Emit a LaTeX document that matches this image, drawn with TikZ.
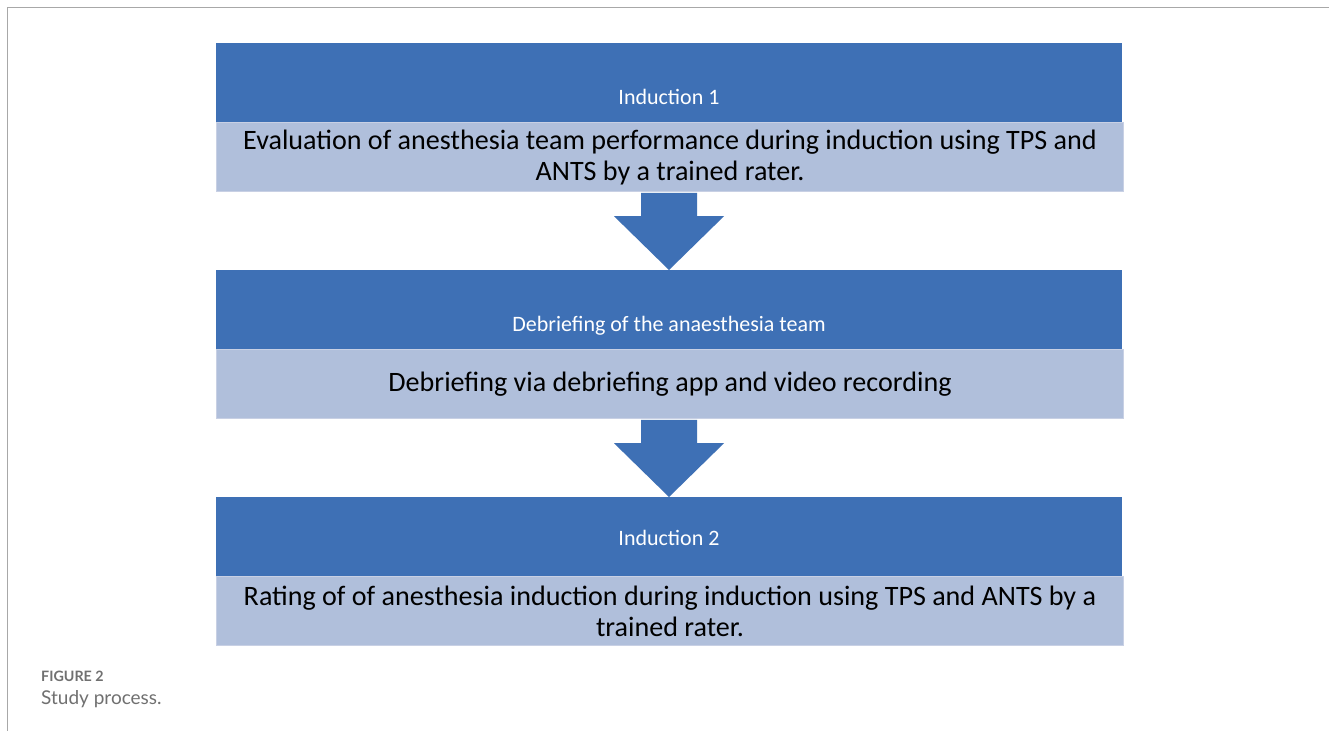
\documentclass[tikz,border=0pt]{standalone}
\usepackage{fontspec}
\setmainfont{Carlito}
\newfontfamily\capfont{Lato}
\usetikzlibrary{calc}
\definecolor{darkblue}{HTML}{3E70B5}
\definecolor{lightblue}{HTML}{B0BFDB}
\definecolor{lightedge}{HTML}{C8D0E4}
\definecolor{framegray}{HTML}{A8A8A8}
\definecolor{capgray}{HTML}{707070}
\tikzset{
  headbox/.style={rectangle, fill=darkblue, text=white, minimum width=906pt, inner xsep=0pt, inner ysep=0pt,
    text height=61pt, text depth=18pt, font=\fontsize{22pt}{26pt}\selectfont, anchor=north},
  highhead/.style={text height=48pt, text depth=31pt},
  bodybox/.style={rectangle, fill=lightblue, draw=lightedge, line width=1.2pt, text=black, minimum width=907pt, minimum height=69pt,
    inner sep=0pt, align=center, font=\fontsize{28.1pt}{31pt}\selectfont, anchor=north},
  flowarrow/.style={fill=darkblue},
}
\begin{document}
\begin{tikzpicture}[x=1pt,y=-1pt]
\useasboundingbox (0,0) rectangle (1329,731);
\fill[white] (0,0) rectangle (1329,731);
\draw[framegray, line width=1.2pt] (1329,7.5) -- (7.5,7.5) -- (7.5,731);

\node[headbox] (d1) at (669,43) {Induction 1};
\node[bodybox] (l1) at (670,122) {Evaluation of anesthesia team performance during induction using TPS and\\ANTS by a trained rater.};
\node[headbox] (d2) at (669,270) {Debriefing of the anaesthesia team};
\node[bodybox] (l2) at (670,349) {Debriefing via debriefing app and video recording};
\node[headbox, highhead] (d3) at (669,497) {Induction 2};
\node[bodybox] (l3) at (670,576) {Rating of of anesthesia induction during induction using TPS and ANTS by a\\trained rater.};

\fill[flowarrow] ($(l1.south)+(-29,0.6)$) -- ($(l1.south)+(27,0.6)$) -- ($(l1.south)+(27,24)$) -- ($(l1.south)+(54,24)$)
  -- (d2.north) -- ($(l1.south)+(-56,24)$) -- ($(l1.south)+(-29,24)$) -- cycle;
\fill[flowarrow] ($(l2.south)+(-29,0.6)$) -- ($(l2.south)+(27,0.6)$) -- ($(l2.south)+(27,24)$) -- ($(l2.south)+(54,24)$)
  -- (d3.north) -- ($(l2.south)+(-56,24)$) -- ($(l2.south)+(-29,24)$) -- cycle;

\node[anchor=base west, inner sep=0pt, text=capgray, font=\capfont\bfseries\fontsize{14.3pt}{16pt}\selectfont] (fig) at (41,681) {FIGURE 2};
\node[anchor=base west, inner sep=0pt, text=capgray, font=\capfont\fontsize{19pt}{22pt}\selectfont] (cap) at (41,704) {Study process.};
\end{tikzpicture}
\end{document}
